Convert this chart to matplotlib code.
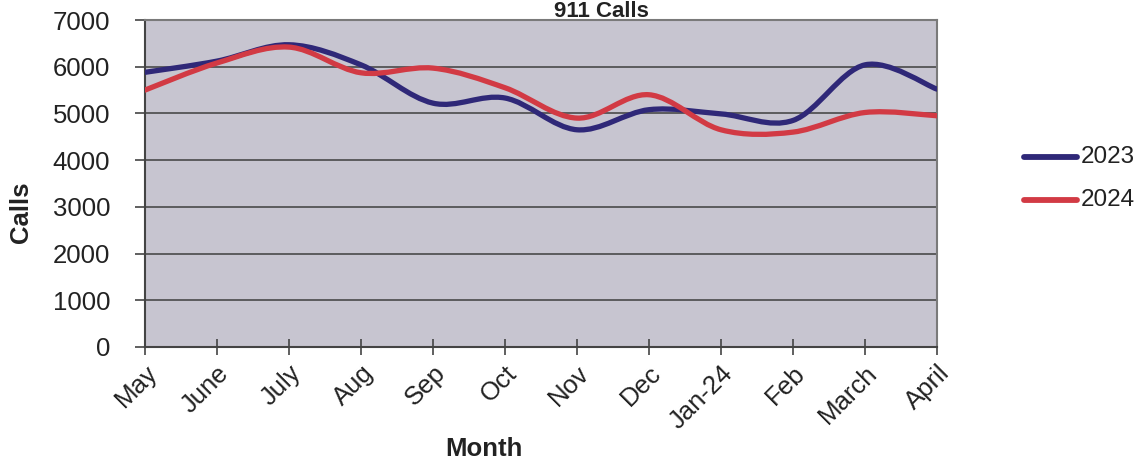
import numpy as np
import matplotlib
matplotlib.use("Agg")
import matplotlib.pyplot as plt
from matplotlib.path import Path
from matplotlib.patches import PathPatch
from matplotlib.lines import Line2D

months = ["May", "June", "July", "Aug", "Sep", "Oct", "Nov", "Dec", "Jan-24", "Feb", "March", "April"]
calls_2023 = [5880, 6120, 6470, 6040, 5220, 5330, 4650, 5080, 4990, 4850, 6040, 5520]
calls_2024 = [5500, 6080, 6420, 5870, 5970, 5550, 4900, 5400, 4650, 4600, 5020, 4950]
yticks = [0, 1000, 2000, 3000, 4000, 5000, 6000, 7000]

plt.rcParams['font.family'] = ['Liberation Sans', 'DejaVu Sans']

W, H = 1143, 467
fig = plt.figure(figsize=(W / 100, H / 100), dpi=100)
ax = fig.add_axes([145/W, 1-347/H, (937-145)/W, (347-20)/H])
ax.set_facecolor('#c7c5d0')


def smooth_path(xs, ys):
    # Excel-style smoothed line: cubic Bezier through points
    xs = np.asarray(xs, float)
    ys = np.asarray(ys, float)
    n = len(xs)
    verts = [(xs[0], ys[0])]
    codes = [Path.MOVETO]
    for i in range(n - 1):
        p0 = np.array([xs[max(i - 1, 0)], ys[max(i - 1, 0)]])
        p1 = np.array([xs[i], ys[i]])
        p2 = np.array([xs[i + 1], ys[i + 1]])
        p3 = np.array([xs[min(i + 2, n - 1)], ys[min(i + 2, n - 1)]])
        c1 = p1 + (p2 - p0) / 6.0
        c2 = p2 - (p3 - p1) / 6.0
        verts += [tuple(c1), tuple(c2), tuple(p2)]
        codes += [Path.CURVE4] * 3
    return Path(verts, codes)


x = np.arange(len(months))
series = [("2023", calls_2023, '#2f2878'), ("2024", calls_2024, '#d23a44')]
for name, vals, col in series:
    patch = PathPatch(smooth_path(x, vals), facecolor='none', edgecolor=col,
                      lw=3.8, capstyle='round', joinstyle='round', zorder=3)
    ax.add_patch(patch)

ax.set_xlim(0, len(months) - 1)
ax.set_ylim(0, 7000)
ax.set_yticks(yticks)
ax.set_yticklabels([str(v) for v in yticks], fontsize=18.5, color='#222222')
ax.set_xticks(x)
ax.set_xticklabels(months, rotation=45, ha='right', rotation_mode='anchor',
                   fontsize=18.5, color='#222222')
ax.grid(axis='y', color='#4a4a4a', lw=1.2, zorder=1)
ax.set_axisbelow(True)
for s in ['top', 'right']:
    ax.spines[s].set_color('#7a7a7a')
    ax.spines[s].set_linewidth(1.5)
for s in ['left', 'bottom']:
    ax.spines[s].set_color('#444444')
    ax.spines[s].set_linewidth(1.5)
ax.tick_params(axis='y', direction='out', length=7, width=1.2, color='#444444', pad=18)
ax.tick_params(axis='x', direction='inout', length=12, width=1.2, color='#444444', pad=4)

fig.text(21/W, 1-212/H, "Calls", rotation=90, ha='center', va='center',
         fontsize=18.5, fontweight='bold', color='#222222')
fig.text(484/W, 1-449/H, "Month", ha='center', va='center',
         fontsize=18.5, fontweight='bold', color='#222222')
fig.text(601/W, 1-1/H, "911 Calls", ha='center', va='top', fontsize=16,
         fontweight='bold', color='#222222')

# legend
for i, (name, _, col) in enumerate(series):
    yy = 1 - (157 + 43 * i) / H
    fig.add_artist(Line2D([1024/W, 1077/W], [yy, yy], color=col, lw=4.2,
                          solid_capstyle='round', transform=fig.transFigure))
    fig.text(1081/W, yy, name, ha='left', va='center', fontsize=17.5, color='#222222')

fig.savefig("out.png", dpi=100, facecolor='white')
